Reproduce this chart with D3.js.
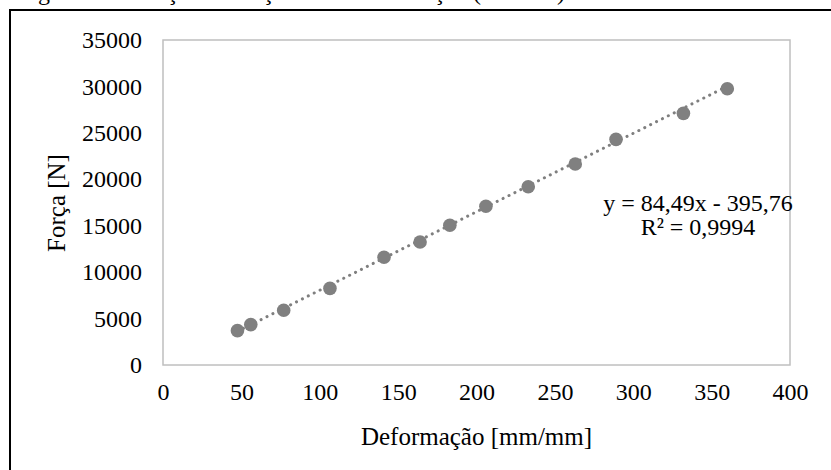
<!DOCTYPE html>
<html>
<head>
<meta charset="utf-8">
<script src="https://cdn.jsdelivr.net/npm/d3@7"></script>
<style>
    body { margin: 0; background: #fff; }
    svg { display: block; }
</style>
</head>
<body>
<div id="force_chart"></div>
<script>
// data
const deformacao = [47.5, 56, 77, 106.5, 141, 164, 183, 206, 233, 263, 289, 332, 360];
const forca = [3700, 4350, 5900, 8250, 11600, 13250, 15050, 17100, 19200, 21650, 24300, 27100, 29750];
const xTicks = [0, 50, 100, 150, 200, 250, 300, 350, 400];
const yTicks = [0, 5000, 10000, 15000, 20000, 25000, 30000, 35000];
const trendSlope = 84.49, trendIntercept = -395.76;
const trendLabel = ["y = 84,49x - 395,76", "R² = 0,9994"];

const canvWidth = 831, canvHeight = 470;
const margin = {top: 40, right: 41, bottom: 105, left: 163};
const width = canvWidth - margin.left - margin.right;
const height = canvHeight - margin.top - margin.bottom;
const fontFam = "'Liberation Serif', 'Times New Roman', serif";

const svg = d3.select('#force_chart')
    .append('svg')
    .attr('width', canvWidth)
    .attr('height', canvHeight);

// outer frame (cut by the page edge) and the caption above it, also cut
svg.append('rect')
    .attr('x', 10).attr('y', 10)
    .attr('width', 900).attr('height', 600)
    .attr('fill', 'none')
    .attr('stroke', '#000')
    .attr('stroke-width', 2);

svg.append('text')
    .attr('x', 18).attr('y', 0)
    .attr('font-family', fontFam)
    .style('font-size', '24px')
    .text('Figura 5 – Relação da força com a deformação (amostra)');

const g = svg.append('g')
    .attr('transform', `translate(${margin.left},${margin.top})`);

const x = d3.scaleLinear().domain([0, 400]).range([0, width]);
const y = d3.scaleLinear().domain([0, 35000]).range([height, 0]);

// plot area border
g.append('rect')
    .attr('width', width).attr('height', height)
    .attr('fill', 'none')
    .attr('stroke', '#bfbfbf')
    .attr('stroke-width', 1.5);

// axes without lines, labels only
const xAxis = g.append('g')
    .attr('transform', `translate(0,${height})`)
    .call(d3.axisBottom(x).tickValues(xTicks).tickSize(0).tickPadding(18).tickFormat(d3.format('d')));
const yAxis = g.append('g')
    .call(d3.axisLeft(y).tickValues(yTicks).tickSize(0).tickPadding(21).tickFormat(d3.format('d')));

[xAxis, yAxis].forEach(a => {
    a.select('.domain').remove();
    a.selectAll('text')
        .attr('font-family', fontFam)
        .style('font-size', '24px')
        .style('fill', '#000');
});

// axis titles
svg.append('text')
    .attr('x', margin.left + width / 2)
    .attr('y', 445)
    .attr('font-family', fontFam)
    .style('text-anchor', 'middle')
    .style('font-size', '25px')
    .text('Deformação [mm/mm]');

svg.append('text')
    .attr('transform', 'rotate(-90)')
    .attr('x', -203)
    .attr('y', 65)
    .attr('font-family', fontFam)
    .style('text-anchor', 'middle')
    .style('font-size', '25px')
    .text('Força [N]');

// linear trendline (dotted)
const xMin = d3.min(deformacao), xMax = d3.max(deformacao);
g.append('line')
    .attr('x1', x(xMin)).attr('y1', y(trendSlope * xMin + trendIntercept))
    .attr('x2', x(xMax)).attr('y2', y(trendSlope * xMax + trendIntercept))
    .attr('stroke', '#7f7f7f')
    .attr('stroke-width', 3)
    .attr('stroke-linecap', 'round')
    .attr('stroke-dasharray', '0.1 6.5');

// points
g.selectAll('circle')
    .data(deformacao.map((d, i) => ({x: d, y: forca[i]})))
    .join('circle')
    .attr('cx', d => x(d.x))
    .attr('cy', d => y(d.y))
    .attr('r', 6.8)
    .attr('fill', '#808080');

// trendline equation
const eq = svg.append('text')
    .attr('font-family', fontFam)
    .style('font-size', '24px')
    .style('text-anchor', 'middle');
trendLabel.forEach((t, i) => {
    eq.append('tspan')
        .attr('x', 698)
        .attr('y', 211 + i * 24)
        .text(t);
});
</script>
</body>
</html>
